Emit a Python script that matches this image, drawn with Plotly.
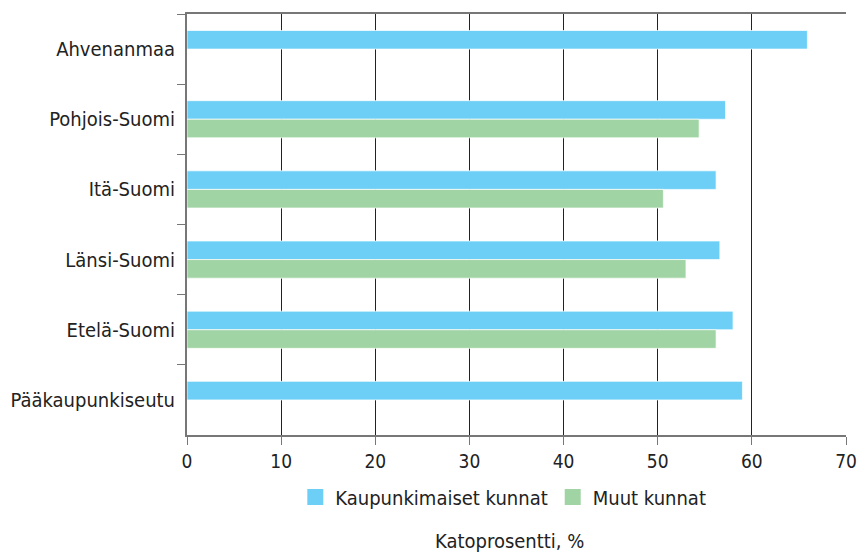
import plotly.graph_objects as go

# Datos
alueet = ['Ahvenanmaa', 'Pohjois-Suomi', 'Itä-Suomi', 'Länsi-Suomi', 'Etelä-Suomi', 'Pääkaupunkiseutu']
kaupunkimaiset = [65.9, 57.2, 56.2, 56.6, 58.0, 59.0]
muut = [None, 54.4, 50.6, 53.0, 56.2, None]

FONTTI = "DejaVu Sans Condensed, Liberation Sans, sans-serif"
SININEN = '#6DCFF6'
VIHREA = '#A0D4A4'

fig = go.Figure()
fig.add_trace(go.Bar(y=alueet, x=kaupunkimaiset, orientation='h', name='Kaupunkimaiset kunnat',
                     showlegend=False,
                     marker=dict(color=SININEN, line=dict(color='rgba(255,255,255,0.7)', width=1))))
fig.add_trace(go.Bar(y=alueet, x=muut, orientation='h', name='Muut kunnat',
                     showlegend=False,
                     marker=dict(color=VIHREA, line=dict(color='rgba(255,255,255,0.7)', width=1))))

# Legendan neliöt isompina
for nimi, vari in [('Kaupunkimaiset kunnat', SININEN), ('Muut kunnat', VIHREA)]:
    fig.add_trace(go.Scatter(x=[None], y=[None], mode='markers', name=nimi,
                             marker=dict(symbol='square', size=17, color=vari)))

fig.update_layout(
    width=859, height=554,
    margin=dict(l=187, r=13, t=14, b=119),
    plot_bgcolor='white', paper_bgcolor='white',
    barmode='group', bargap=0.47, bargroupgap=0.0,
    font=dict(family=FONTTI, size=20, color='#222'),
    legend=dict(orientation='h', x=0.48, xanchor='center', y=-0.147, yanchor='middle',
                font=dict(size=20), itemwidth=30, traceorder='normal'),
    showlegend=True,
)

fig.update_xaxes(range=[0, 70], dtick=10, showgrid=True, gridcolor='#222', gridwidth=1,
                 showline=True, linecolor='#777', linewidth=1.5, mirror=True,
                 ticks='outside', ticklen=8, tickcolor='#777', zeroline=False, automargin=False,
                 tickfont=dict(size=19))
fig.update_yaxes(autorange='reversed', tickson='boundaries', showgrid=False,
                 showline=True, linecolor='#777', linewidth=2, mirror=False,
                 ticks='outside', ticklen=8, tickcolor='#777', automargin=False,
                 ticklabelstandoff=6)

# Akselin otsikko legendan alapuolella
fig.add_annotation(text='Katoprosentti, %', xref='paper', yref='paper', x=0.49, y=-0.252,
                   xanchor='center', yanchor='middle', showarrow=False, font=dict(size=20))

# Poistetaan sivun oletusmarginaali
fig.write_html("out.html", config={'displayModeBar': False},
               post_script="document.body.style.margin='0';")
